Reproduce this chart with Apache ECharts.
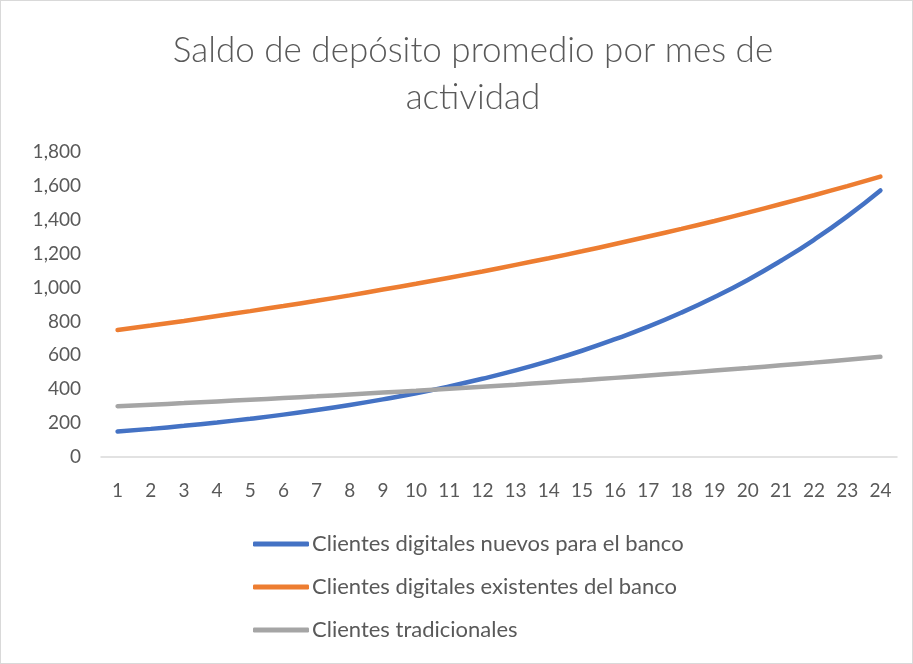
<!DOCTYPE html>
<html>
<head>
<meta charset="utf-8">
<script src="https://cdn.jsdelivr.net/npm/echarts@6/dist/echarts.min.js"></script>
<style>
  html, body { margin: 0; padding: 0; background: #fff; }
  #main { width: 913px; height: 664px; box-sizing: border-box; border: 1px solid #d9d9d9; }
</style>
</head>
<body>
<div id="main"></div>
<script>
// meses de actividad
var meses = [];
for (var i = 1; i <= 24; i++) meses.push(String(i));

var nuevos = [150, 166, 184, 204, 226, 250, 277, 307, 340, 376, 417, 462,
              511, 566, 627, 695, 769, 852, 944, 1045, 1158, 1282, 1420, 1573];
var existentes = [750, 776, 803, 832, 861, 891, 922, 954, 988, 1022, 1058, 1095,
                  1134, 1173, 1214, 1257, 1301, 1346, 1393, 1442, 1493, 1545, 1599, 1655];
var tradicionales = [300, 309, 318, 328, 338, 348, 358, 369, 380, 391, 403, 415,
                     427, 440, 453, 467, 481, 495, 510, 525, 541, 557, 574, 591];

var nombres = ['Clientes digitales nuevos para el banco',
               'Clientes digitales existentes del banco',
               'Clientes tradicionales'];
var colores = ['#4472c4', '#ed7d31', '#a5a5a5'];

var myChart = echarts.init(document.getElementById('main'));

function serie(nombre, datos, color) {
    return {
        name: nombre,
        type: 'line',
        smooth: true,
        symbol: 'none',
        data: datos,
        lineStyle: { color: color, width: 4.5, cap: 'round' },
        itemStyle: { color: color }
    };
}

var option = {
    animation: false,
    color: colores,
    title: {
        text: 'Saldo de depósito promedio por mes de\nactividad',
        left: 467,
        textAlign: 'center',
        top: 21,
        textStyle: {
            color: '#595959',
            fontSize: 35,
            fontWeight: 300,
            fontFamily: 'Lato',
            lineHeight: 47
        }
    },
    grid: { left: 100, right: 15, top: 151, bottom: 206 },
    xAxis: {
        type: 'category',
        data: meses,
        boundaryGap: true,
        axisLine: { lineStyle: { color: '#d9d9d9', width: 1.5 } },
        axisTick: { show: false },
        axisLabel: { color: '#595959', fontSize: 19, fontFamily: 'Lato', margin: 24 }
    },
    yAxis: {
        type: 'value',
        min: 0,
        max: 1800,
        interval: 200,
        axisLine: { show: false },
        axisTick: { show: false },
        splitLine: { show: false },
        axisLabel: {
            color: '#595959',
            fontSize: 19,
            fontFamily: 'Lato',
            margin: 20,
            formatter: function (v) { return v.toLocaleString('en-US'); }
        }
    },
    legend: {
        orient: 'vertical',
        left: 247,
        top: 527,
        icon: 'roundRect',
        itemWidth: 56,
        itemHeight: 5,
        itemGap: 21,
        data: nombres,
        textStyle: { color: '#595959', fontSize: 22, fontFamily: 'Lato', padding: [0, 0, 0, -2] }
    },
    series: [
        serie(nombres[0], nuevos, colores[0]),
        serie(nombres[1], existentes, colores[1]),
        serie(nombres[2], tradicionales, colores[2])
    ]
};
myChart.setOption(option);
window.addEventListener('resize', function () {
    myChart.resize();
});
</script>
</body>
</html>
